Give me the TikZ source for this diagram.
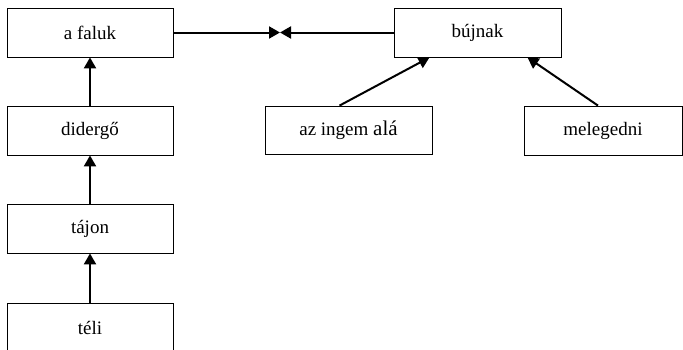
\documentclass[tikz,border=0pt]{standalone}
\usepackage{fontspec}
\setmainfont{Liberation Serif}
\usetikzlibrary{arrows.meta}
\begin{document}
\begin{tikzpicture}[x=1pt,y=-1pt,
  box/.style={draw,line width=0.8pt,minimum width=166pt,minimum height=49pt,inner sep=0pt,font=\fontsize{19}{22}\selectfont},
  conn/.style={line width=2pt,-{Triangle[length=11pt,width=12pt]}}]
\useasboundingbox (0,0) rectangle (683,349);
\node[box] (faluk) at (90,32.5) {a faluk};
\node[box,minimum width=167pt] (bujnak) at (477.5,32.5) {bújnak};
\node[box] (dider) at (90,130.5) {didergő};
\node[box] (tajon) at (90,228.5) {tájon};
\node[box] (teli) at (90,327.5) {téli};
\node[box,minimum width=167pt,minimum height=48pt] (ingem) at (348.5,130) {az ingem {\fontsize{21}{24}\selectfont alá}};
\node[box,minimum width=158pt] (meleg) at (603,130.5) {melegedni};
\coordinate (mid) at (280,32.5);
\draw[conn] (teli) -- (tajon);
\draw[conn] (tajon) -- (dider);
\draw[conn] (dider) -- (faluk);
\draw[conn] (faluk.east) -- (mid);
\draw[conn] (bujnak.west) -- (mid);
\draw[conn] (ingem.north) ++(-9,0) -- ([xshift=-48pt]bujnak.south);
\draw[conn] (meleg.north) ++(-5,0) -- ([xshift=50pt]bujnak.south);
\end{tikzpicture}
\end{document}
